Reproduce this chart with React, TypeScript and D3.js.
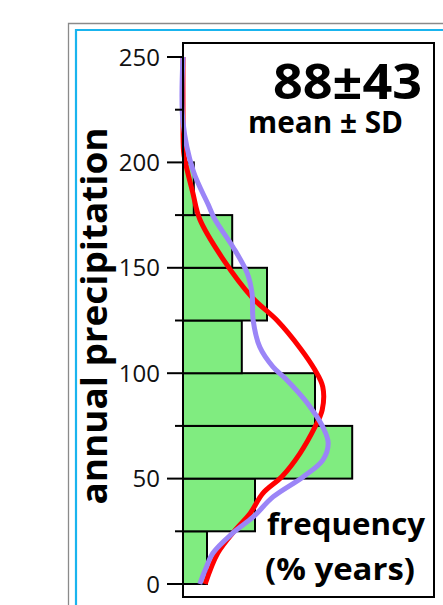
import React from "react";
import * as d3 from "d3";

const binStarts = [0, 25, 50, 75, 100, 125, 150, 175];
const binFreq = [4, 12, 28.2, 22, 9.8, 14, 8.2, 1.8];
const yTicksMajor = [0, 50, 100, 150, 200, 250];
const yTicksMinor = [25, 75, 125, 175, 225];

const redVal = [250, 225, 205, 200, 186, 173, 154, 136, 125, 112, 101.5, 93.5, 82.5, 74.5, 62, 51, 43, 33.6, 25.6, 14.7, 0];
const redFreq = [0, 0, 0.1, 0.4, 1.6, 2.8, 6.7, 11.5, 15.7, 19.5, 22, 23.3, 23.2, 22, 19.5, 16.5, 13.3, 11.2, 8.7, 5.8, 3.7];

const purpleVal = [250, 219, 196, 180, 173, 160, 147.5, 138, 125, 112.4, 103, 96.8, 85.9, 74.5, 66.9, 58.8, 50.8, 41.3, 31.8, 24.2, 14.7, 6.6, 0];
const purpleFreq = [0, 0, 1.7, 4.2, 5.3, 8.3, 10.7, 11.5, 11.7, 12.8, 15, 17.3, 20.7, 23.3, 24.2, 23.3, 20, 15, 11.7, 8.3, 5, 3.7, 2.8];

export default function App() {
  const W = 443, H = 605;
  const left = 183, right = 434, top = 43, bottom = 597;
  const y = d3.scaleLinear().domain([0, 250]).range([584, 57]);
  const x = d3.scaleLinear().domain([0, 42]).range([left, left + 252]);
  const line = d3
    .line<[number, number]>()
    .x((d) => x(d[1]))
    .y((d) => y(d[0]))
    .curve(d3.curveCatmullRom.alpha(0.5));
  const redPath = line(redVal.map((v, i) => [v, redFreq[i]]) as [number, number][]) || "";
  const purplePath = line(purpleVal.map((v, i) => [v, purpleFreq[i]]) as [number, number][]) || "";
  const font = "'Open Sans', 'Noto Sans', sans-serif";
  return (
    <svg
      width={W}
      height={H}
      style={{ position: "absolute", left: 0, top: 0, background: "#fff" }}
      fontFamily={font}
    >
      <rect x={0} y={0} width={W} height={H} fill="#fff" />
      {/* outer borders */}
      <path d={`M68.5,${H + 5} V23.5 H${W + 5}`} fill="none" stroke="#8a8a8a" strokeWidth={1.3} />
      <path d={`M76,${H + 5} V30 H${W + 5}`} fill="none" stroke="#19b4ee" strokeWidth={2.2} />
      {/* bars */}
      {binStarts.map((b, i) => (
        <rect
          key={i}
          x={x(0)}
          y={y(b + 25)}
          width={x(binFreq[i]) - x(0)}
          height={y(b) - y(b + 25)}
          fill="#80ec80"
          stroke="#000"
          strokeWidth={2}
        />
      ))}
      {/* curves */}
      <path d={redPath} fill="none" stroke="#ff0000" strokeWidth={5} strokeLinejoin="round" />
      <path d={purplePath} fill="none" stroke="#9b85f7" strokeWidth={5} strokeLinejoin="round" />
      {/* box */}
      <rect x={left} y={top} width={right - left} height={bottom - top} fill="none" stroke="#000" strokeWidth={2} />
      {/* ticks */}
      {yTicksMajor.map((t) => (
        <g key={"M" + t}>
          <line x1={167} x2={left} y1={y(t)} y2={y(t)} stroke="#000" strokeWidth={2} />
          <text x={160} y={y(t)} dy="0.36em" textAnchor="end" fontSize={24} fill="#111">
            {t}
          </text>
        </g>
      ))}
      {yTicksMinor.map((t) => (
        <line key={"m" + t} x1={175} x2={left} y1={y(t)} y2={y(t)} stroke="#000" strokeWidth={2} />
      ))}
      {/* texts */}
      <text x={422} y={99} textAnchor="end" fontSize={48} fontWeight="bold" textLength={149} lengthAdjust="spacingAndGlyphs">
        88±43
      </text>
      <text x={403} y={133} textAnchor="end" fontSize={31} fontWeight="bold" textLength={155} lengthAdjust="spacingAndGlyphs">
        mean ± SD
      </text>
      <text x={425} y={535} textAnchor="end" fontSize={31} fontWeight="bold" textLength={158} lengthAdjust="spacingAndGlyphs">
        frequency
      </text>
      <text x={415} y={580} textAnchor="end" fontSize={31} fontWeight="bold" textLength={150} lengthAdjust="spacingAndGlyphs">
        (% years)
      </text>
      <text
        transform="translate(107,316) rotate(-90)"
        textAnchor="middle"
        fontSize={36}
        fontWeight="bold"
        textLength={377}
        lengthAdjust="spacingAndGlyphs"
      >
        annual precipitation
      </text>
    </svg>
  );
}
